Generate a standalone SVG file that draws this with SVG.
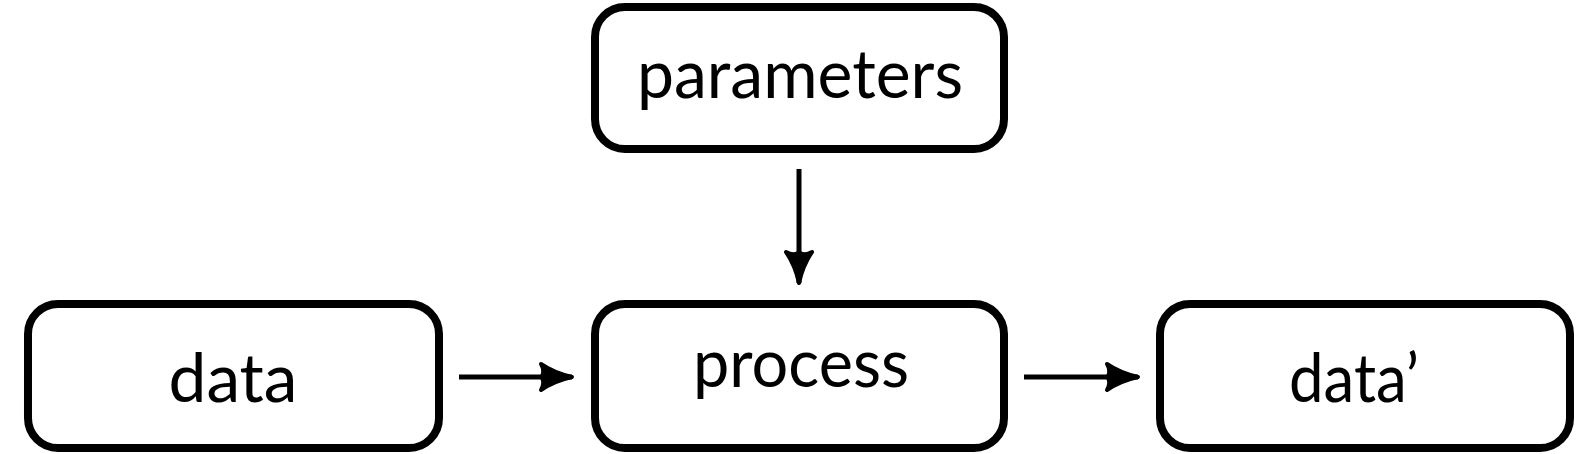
<svg xmlns="http://www.w3.org/2000/svg" width="1576" height="454" viewBox="0 0 1576 454">
<style>
.box{fill:#fff;stroke:#000;stroke-width:8}
.lbl{font-family:"Lato","Liberation Sans",sans-serif;font-size:68px;fill:#000;text-anchor:middle}
.edge{stroke:#000;stroke-width:5;fill:none}
</style>
<defs>
<marker id="ah" markerUnits="userSpaceOnUse" markerWidth="44" markerHeight="44" viewBox="-38 -22 44 44" refX="0" refY="0" orient="auto">
<path d="M0,0 Q-18,-4 -31,-13 Q-27,-6 -30,-1 L-26,0 L-30,1 Q-27,6 -31,13 Q-18,4 0,0 Z" fill="#000" stroke="#000" stroke-width="4" stroke-linejoin="round"/>
</marker>
</defs>
<rect width="1576" height="454" fill="#fff"/>
<g id="parameters"><rect class="box" x="595" y="7" width="409" height="142" rx="30"/><text class="lbl" x="800" y="98" textLength="326" lengthAdjust="spacingAndGlyphs">parameters</text></g>
<g id="data"><rect class="box" x="28" y="304" width="411" height="144" rx="30"/><text class="lbl" x="233" y="402" textLength="129" lengthAdjust="spacingAndGlyphs">data</text></g>
<g id="process"><rect class="box" x="595" y="304" width="409" height="144" rx="30"/><text class="lbl" x="801" y="387" textLength="216" lengthAdjust="spacingAndGlyphs">process</text></g>
<g id="data2"><rect class="box" x="1160" y="304" width="410" height="144" rx="30"/><text class="lbl" x="1354" y="402" textLength="130" lengthAdjust="spacingAndGlyphs">data’</text></g>
<g id="connectors">
<line class="edge" x1="799" y1="169" x2="799" y2="283" marker-end="url(#ah)"/>
<line class="edge" x1="459" y1="377" x2="572" y2="377" marker-end="url(#ah)"/>
<line class="edge" x1="1024" y1="377" x2="1138" y2="377" marker-end="url(#ah)"/>
</g>
</svg>
